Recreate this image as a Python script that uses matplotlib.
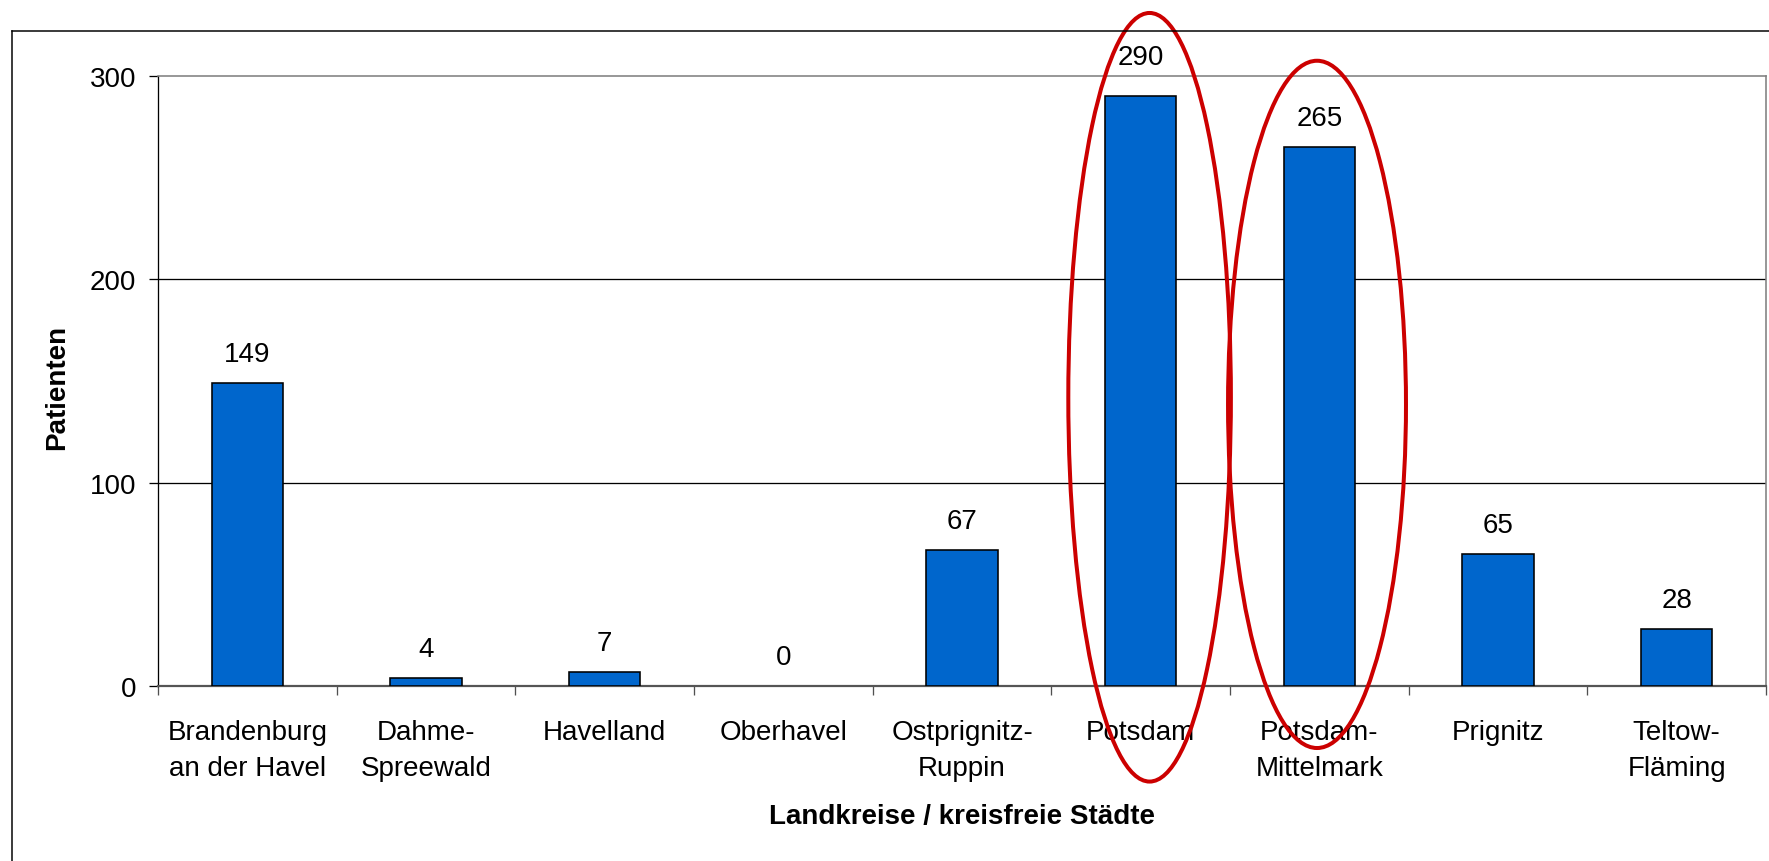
import matplotlib
matplotlib.use("Agg")
import matplotlib.pyplot as plt
from matplotlib.patches import Ellipse
from matplotlib.lines import Line2D
import numpy as np

plt.rcParams['font.family'] = ['Liberation Sans', 'DejaVu Sans']

# Patients per district / independent city
categories = ["Brandenburg\nan der Havel", "Dahme-\nSpreewald", "Havelland", "Oberhavel",
              "Ostprignitz-\nRuppin", "Potsdam", "Potsdam-\nMittelmark", "Prignitz",
              "Teltow-\nFläming"]
patients = [149, 4, 7, 0, 67, 290, 265, 65, 28]
y_ticks = [0, 100, 200, 300]
x_title = "Landkreise / kreisfreie Städte"
y_title = "Patienten"

W, H, DPI = 1769, 862, 100
PX = 72 / DPI  # points per pixel

fig = plt.figure(figsize=(W / DPI, H / DPI), dpi=DPI)
ax = fig.add_axes([158 / W, (H - 687) / H, (1766 - 158) / W, (687 - 77) / H])

x = np.arange(len(categories))
# a zero-height bar gets no outline
edge_widths = [1.6 * PX if v > 0 else 0 for v in patients]
bars = ax.bar(x, patients, width=0.4, color='#0066CC', edgecolor='black',
              linewidth=edge_widths, zorder=3)

ax.set_xlim(-0.5, len(categories) - 0.5)
ax.set_ylim(y_ticks[0], y_ticks[-1])

# horizontal gridlines between the axis and the plot-area border
for v in y_ticks[1:-1]:
    ax.axhline(v, color='black', lw=1.3 * PX, zorder=1)

ax.set_yticks(y_ticks)
ax.tick_params(axis='y', length=9 * PX, width=1.3 * PX, pad=13 * PX,
               labelsize=20, color='black')

ax.set_xticks(x)
ax.set_xticklabels(categories, linespacing=1.5)
ax.set_xticks(np.arange(len(categories) + 1) - 0.5, minor=True)
ax.tick_params(axis='x', which='major', length=0, pad=33 * PX, labelsize=20)
ax.tick_params(axis='x', which='minor', length=9 * PX, width=1.3 * PX, color='#505050')

for side in ('top', 'right'):
    ax.spines[side].set_color('#808080')
    ax.spines[side].set_linewidth(1.6 * PX)
ax.spines['left'].set_color('black')
ax.spines['left'].set_linewidth(1.3 * PX)
ax.spines['bottom'].set_color('#555555')
ax.spines['bottom'].set_linewidth(2.2 * PX)

# value labels above the bars
extra_lift = {290: 10}
for xi, v in zip(x, patients):
    ax.annotate(str(v), (xi, v), xytext=(0, (22 + extra_lift.get(v, 0)) * PX),
                textcoords='offset points', ha='center', va='baseline',
                fontsize=20, color='black', zorder=4)

# red ellipses marking Potsdam and Potsdam-Mittelmark
i_pot = categories.index("Potsdam")
i_pm = categories.index("Potsdam-\nMittelmark")
for cx, cy, w, h in [(i_pot + 0.05, 142, 0.91, 378), (i_pm - 0.013, 138.5, 0.996, 338)]:
    ax.add_patch(Ellipse((cx, cy), w, h, fill=False, edgecolor='#CC0000',
                         lw=4 * PX, clip_on=False, zorder=5))

# axis titles
fig.text(962 / W, (H - 817) / H, x_title, ha='center', va='center',
         fontsize=20, fontweight='bold')
fig.text(57 / W, (H - 387) / H, y_title, ha='center', va='center',
         rotation=90, fontsize=20, fontweight='bold')

# chart-area frame
fy = (H - 31.5) / H
fx = 11.5 / W
fig.add_artist(Line2D([fx, fx], [0, fy], transform=fig.transFigure,
                      color='black', lw=1.5 * PX))
fig.add_artist(Line2D([fx, 1], [fy, fy], transform=fig.transFigure,
                      color='black', lw=1.5 * PX))

fig.savefig("out.png", dpi=DPI, facecolor='white')
